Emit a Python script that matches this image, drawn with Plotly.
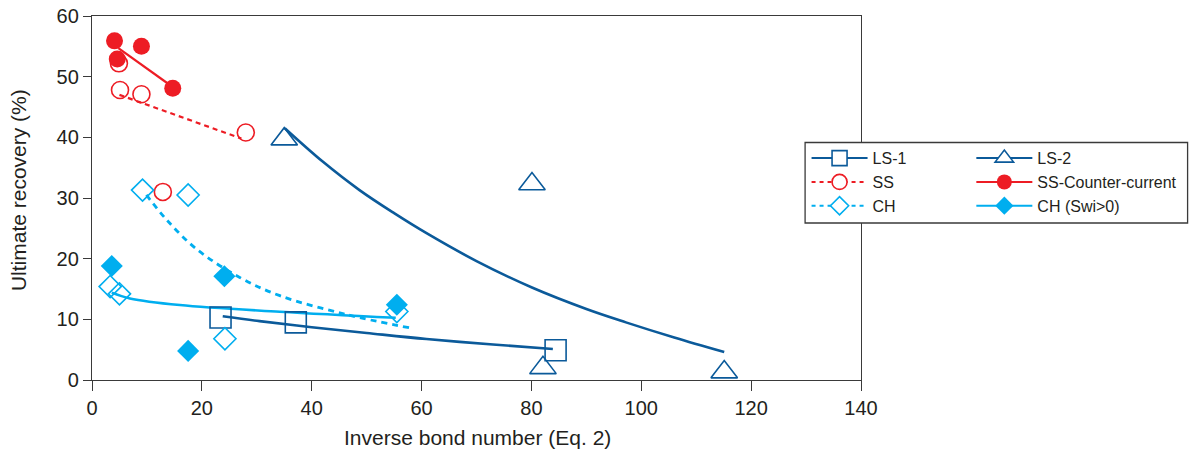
import plotly.graph_objects as go

# ---------------- data ----------------
ls1_x = [23.4, 37.1, 84.4]
ls1_y = [10.3, 9.5, 4.9]
ls2_x = [35.0, 80.1, 82.1, 115.1]
ls2_y = [39.7, 32.3, 2.0, 1.3]
ss_x = [4.9, 5.1, 9.0, 12.9, 28.0]
ss_y = [52.2, 47.8, 47.1, 31.0, 40.8]
sscc_x = [4.1, 9.0, 4.6, 14.7]
sscc_y = [55.9, 55.0, 52.9, 48.1]
ch_x = [9.2, 17.5, 3.3, 5.0, 24.2, 55.5]
ch_y = [31.3, 30.5, 15.4, 14.2, 6.8, 11.3]
chs_x = [3.6, 24.1, 17.5, 55.5]
chs_y = [18.8, 17.1, 4.8, 12.4]

# trend lines
ls1_fit_x = [23.8, 30.5, 40.0, 50.0, 60.9, 73.0, 83.9]
ls1_fit_y = [10.5, 9.7, 8.7, 7.75, 6.75, 5.85, 5.1]
ls2_fit_x = [35.1, 42.0, 48.7, 55.0, 60.9, 70.0, 80.2, 90.0, 97.2, 106.0, 115.1]
ls2_fit_y = [41.5, 36.0, 31.3, 27.5, 24.2, 19.6, 15.2, 11.7, 9.5, 7.0, 4.6]
ss_fit_x = [5.0, 27.2]
ss_fit_y = [47.0, 39.8]
sscc_fit_x = [4.8, 14.7]
sscc_fit_y = [54.7, 48.3]
ch_fit_x = [9.9, 13.6, 19.0, 26.9, 34.2, 46.3, 57.8]
ch_fit_y = [30.5, 26.4, 21.6, 16.9, 13.9, 10.8, 8.6]
chs_fit_x = [3.6, 6.9, 16.0, 34.2, 55.3]
chs_fit_y = [14.4, 13.45, 12.35, 11.25, 10.25]

x_ticks = [0, 20, 40, 60, 80, 100, 120, 140]
y_ticks = [0, 10, 20, 30, 40, 50, 60]

DARK = "#0b5a9a"
RED = "#ed1c24"
LIGHT = "#00aeef"
TXT = "#231f20"
FONT = "Arial, Liberation Sans, Helvetica, sans-serif"

fig = go.Figure()

def curve(x, y, color, dash="solid", width=2.6):
    fig.add_trace(go.Scatter(x=x, y=y, mode="lines", showlegend=False,
                             line=dict(color=color, width=width, dash=dash,
                                       shape="spline", smoothing=1.0),
                             hoverinfo="skip"))

def pts(x, y, symbol, color, size, filled):
    fig.add_trace(go.Scatter(
        x=x, y=y, mode="markers", showlegend=False,
        marker=dict(symbol=symbol, size=size,
                    color=color if filled else "rgba(0,0,0,0)",
                    line=dict(color=color, width=0 if filled else 1.6))))

def leg(name, symbol, color, size, filled, dash, legend):
    fig.add_trace(go.Scatter(
        x=[None], y=[None], mode="lines+markers", name=name, legend=legend,
        line=dict(color=color, width=2, dash=dash),
        marker=dict(symbol=symbol, size=size,
                    color=color if filled else "white",
                    line=dict(color=color, width=0 if filled else 1.6))))

# trend curves
curve(ls1_fit_x, ls1_fit_y, DARK)
curve(ls2_fit_x, ls2_fit_y, DARK)
curve(ss_fit_x, ss_fit_y, RED, dash="5px,4px", width=2.2)
curve(sscc_fit_x, sscc_fit_y, RED, width=2.2)
curve(ch_fit_x, ch_fit_y, LIGHT, dash="6px,5px", width=2.8)
curve(chs_fit_x, chs_fit_y, LIGHT, width=2.6)

# markers
pts(ls1_x, ls1_y, "square", DARK, 21, False)
pts(ls2_x, ls2_y, "triangle-up", DARK, 23, False)
pts(ss_x, ss_y, "circle", RED, 17, False)
pts(sscc_x, sscc_y, "circle", RED, 17, True)
pts(ch_x, ch_y, "diamond", LIGHT, 17, False)
pts(chs_x, chs_y, "diamond", LIGHT, 17, True)

# legend entries
leg("LS-1", "square", DARK, 15, False, "solid", "legend")
leg("SS", "circle", RED, 15, False, "4px,4px", "legend")
leg("CH", "diamond", LIGHT, 14, False, "4px,4px", "legend")
leg("LS-2", "triangle-up", DARK, 19, False, "solid", "legend2")
leg("SS-Counter-current", "circle", RED, 15, True, "solid", "legend2")
leg("CH (Swi>0)", "diamond", LIGHT, 14, True, "solid", "legend2")

axis_common = dict(showline=True, linecolor="#3a3a3a", linewidth=1.3, mirror=True,
                   ticks="outside", tickcolor="#3a3a3a", tickwidth=1.3,
                   showgrid=False, zeroline=False, automargin=False,
                   tickfont=dict(family=FONT, size=20, color=TXT))

fig.update_layout(
    width=1193, height=454,
    margin=dict(l=92, r=331, t=16, b=74),
    paper_bgcolor="white", plot_bgcolor="white",
    font=dict(family=FONT, color=TXT),
    xaxis=dict(range=[0, 140], tickvals=x_ticks, ticklen=10, **axis_common),
    yaxis=dict(range=[0, 60], tickvals=y_ticks, ticklen=8, **axis_common),
    legend=dict(x=0.928, y=0.656, xanchor="left", yanchor="top",
                bgcolor="rgba(0,0,0,0)", borderwidth=0, itemwidth=56,
                font=dict(family=FONT, size=16, color=TXT), tracegroupgap=0),
    legend2=dict(x=1.142, y=0.656, xanchor="left", yanchor="top",
                 bgcolor="rgba(0,0,0,0)", borderwidth=0, itemwidth=56,
                 font=dict(family=FONT, size=16, color=TXT), tracegroupgap=0),
    shapes=[dict(type="rect", xref="paper", yref="paper",
                 x0=0.9273, x1=1.4247, y0=0.4313, y1=0.6525,
                 line=dict(color="#3a3a3a", width=1.3), fillcolor="white",
                 layer="above")],
    annotations=[
        dict(text="Inverse bond number (Eq. 2)", xref="paper", yref="paper",
             x=0.501, y=-0.1566, xanchor="center", yanchor="middle",
             showarrow=False, font=dict(family=FONT, size=21, color=TXT)),
        dict(text="Ultimate recovery (%)", xref="paper", yref="paper",
             x=-0.0948, y=0.522, xanchor="center", yanchor="middle", textangle=-90,
             showarrow=False, font=dict(family=FONT, size=21, color=TXT)),
    ],
)

# remove the page's default body margin so the figure sits at the window corner
fig.write_html("out.html", config={"displayModeBar": False},
               post_script="document.body.style.margin='0';")
